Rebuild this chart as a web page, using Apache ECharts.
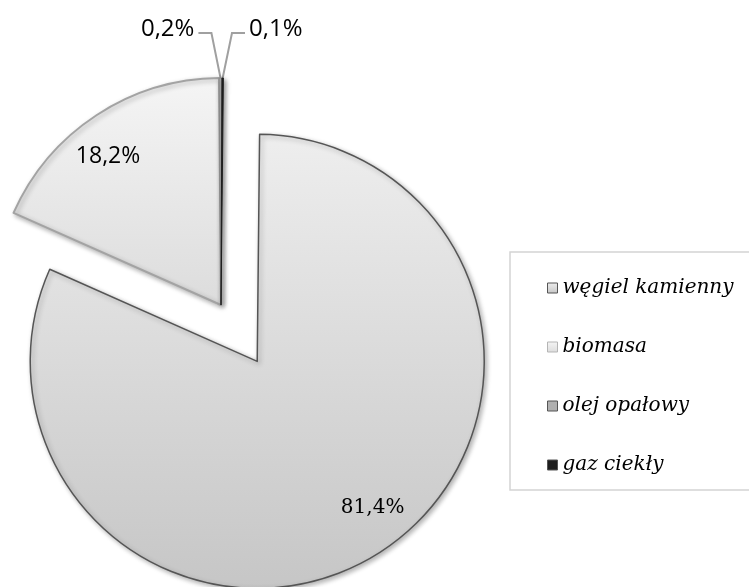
<!DOCTYPE html>
<html>
<head>
<meta charset="utf-8">
<script src="https://cdn.jsdelivr.net/npm/echarts@6/dist/echarts.min.js"></script>
<style>
  html, body { margin: 0; padding: 0; background: #fff; }
  #chart { width: 749px; height: 587px; }
</style>
</head>
<body>
<div id="chart"></div>
<script>
// data
var names = ['węgiel kamienny', 'biomasa', 'olej opałowy', 'gaz ciekły'];
var values = [81.4, 18.2, 0.2, 0.1];

var fills = [
  new echarts.graphic.LinearGradient(0, 0, 0, 1, [{offset: 0, color: '#eeeeee'}, {offset: 1, color: '#c6c6c6'}]),
  new echarts.graphic.LinearGradient(0, 0, 0, 1, [{offset: 0, color: '#f5f5f5'}, {offset: 1, color: '#dcdcdc'}]),
  '#b0b0b0',
  '#1e1e1e'
];
var borders = ['#555555', '#a3a3a3', '#8c8c8c', '#1e1e1e'];
var borderW = [1.5, 2, 1, 1];

function fmt(v) { return v.toFixed(1).replace('.', ',') + '%'; }

var center = [221, 305];
var radius = 227;

var mainData = names.map(function (n, i) {
  return {
    name: n,
    value: values[i],
    selected: i === 0,
    itemStyle: { color: fills[i], borderColor: borders[i], borderWidth: borderW[i] },
    label: { show: i >= 2 },
    labelLine: { show: i >= 2 }
  };
});

// label layer (inside labels sit at ~0.8 r, turned a little like Excel does)
var labelData = names.map(function (n, i) {
  return {
    name: n,
    value: values[i],
    selected: i === 0,
    label: { show: i < 2, fontFamily: i === 0 ? 'DejaVu Serif' : 'Open Sans', fontSize: i === 0 ? 20 : 23 }
  };
});

var chart = echarts.init(document.getElementById('chart'));
chart.setOption({
  animation: false,
  legend: {
    orient: 'vertical',
    left: 510,
    top: 252,
    padding: [26, 60, 15, 37],
    backgroundColor: '#fff',
    borderColor: '#d4d4d4',
    borderWidth: 1.5,
    icon: 'rect',
    itemWidth: 10,
    itemHeight: 10,
    itemGap: 39,
    itemTextGap: 13,
    selectedMode: false,
    textStyle: { fontFamily: 'DejaVu Serif', fontStyle: 'italic', fontSize: 20, lineHeight: 20, color: '#000' },
    data: names.map(function (n, i) {
      return { name: n, itemStyle: { color: fills[i], borderColor: i === 1 ? '#b5b5b5' : '#555', borderWidth: 1 } };
    })
  },
  series: [
    {
      type: 'pie',
      center: center,
      radius: radius,
      startAngle: 89.4,
      clockwise: true,
      selectedMode: 'multiple',
      selectedOffset: 67,
      avoidLabelOverlap: false,
      emphasis: { disabled: true },
      itemStyle: { shadowBlur: 5, shadowOffsetX: 2, shadowOffsetY: 2, shadowColor: 'rgba(0,0,0,0.3)' },
      label: {
        position: 'outside',
        formatter: function (p) { return fmt(p.value); },
        fontFamily: 'Open Sans',
        fontSize: 24,
        color: '#000',
        distanceToLabelLine: 4
      },
      labelLine: { length: 45, length2: 13, lineStyle: { color: '#a0a0a0', width: 2 } },
      // spread the two tiny-slice leader lines into a V
      labelLayout: function (params) {
        var pts = params.labelLinePoints;
        if (!pts) return {};
        var s = pts[2][0] >= pts[1][0] ? 1 : -1;
        pts[1][0] += s * 9;
        pts[2][0] += s * 9;
        return { labelLinePoints: pts, dx: s * 9, dy: -4 };
      },
      data: mainData
    },
    {
      type: 'pie',
      center: center,
      radius: [140, radius],
      startAngle: 93.4,
      clockwise: true,
      selectedMode: 'multiple',
      selectedOffset: 67,
      silent: true,
      emphasis: { disabled: true },
      itemStyle: { color: 'rgba(0,0,0,0)', borderWidth: 0 },
      label: {
        position: 'inside',
        formatter: function (p) { return fmt(p.value); },
        color: '#000'
      },
      labelLine: { show: false },
      data: labelData
    }
  ]
});
</script>
</body>
</html>
